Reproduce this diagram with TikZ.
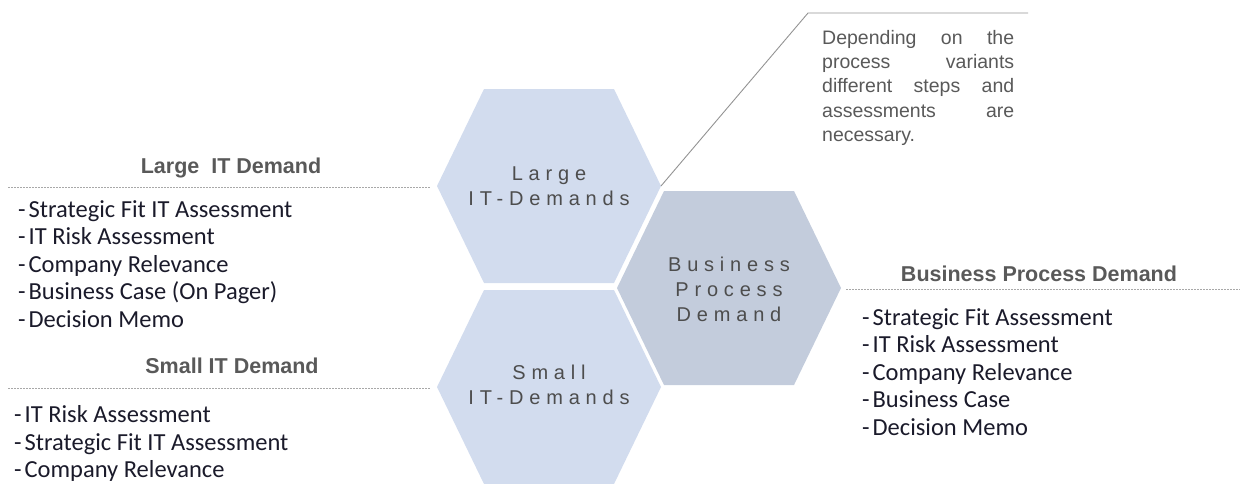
\documentclass[tikz,border=0pt]{standalone}
\usepackage{fontspec}
\setmainfont{Liberation Sans}
\newfontfamily\calfont{Carlito}
\newfontfamily\spacedfont[LetterSpace=29]{Liberation Sans}
\definecolor{hexlight}{HTML}{D2DCEE}
\definecolor{hexdark}{HTML}{C3CCDC}
\definecolor{labelgray}{HTML}{4D4D4D}
\definecolor{headgray}{HTML}{595959}
\definecolor{itemcol}{HTML}{1A1A2A}
\definecolor{sepgray}{HTML}{A8A8A8}
\newcommand{\dsh}{-\hspace{0.12em}}
\begin{document}
\begin{tikzpicture}[x=1pt,y=-1pt,
  hexlabel/.style={inner sep=0pt, anchor=north, align=center, text=labelgray,
    font=\spacedfont\fontsize{20}{25}\selectfont},
  heading/.style={inner sep=0pt, anchor=base, text=headgray,
    font=\bfseries\fontsize{21.5}{25}\selectfont},
  listitem/.style={inner sep=0pt, anchor=base west, text=itemcol,
    font=\calfont\fontsize{24.5}{27.5}\selectfont},
  sepline/.style={draw=sepgray, line width=0.8pt, dash pattern=on 2pt off 1pt},
  callout/.style={draw=gray!85, line width=0.9pt},
  note/.style={inner sep=0pt, anchor=north west, align=left, text=headgray,
    font=\fontsize{19.5}{24.3}\selectfont}
]
\useasboundingbox (0,0) rectangle (1244,483);

% hexagons
\fill[hexlight] (437,186) -- (484,89) -- (614,89) -- (661,186) -- (614,283) -- (484,283) -- cycle;
\fill[hexlight] (437,387) -- (484,290) -- (614,290) -- (661,387) -- (614,484) -- (484,484) -- cycle;
\fill[hexdark] (617,288) -- (664,191) -- (794,191) -- (841,288) -- (794,385) -- (664,385) -- cycle;

\node[hexlabel] (large) at (549,167) {Large\\IT-Demands};
\node[hexlabel] (small) at (549,365) {Small\\IT-Demands};
\node[hexlabel] (bpd) at (729,257) {Business\\Process\\Demand};

% callout
\coordinate (cstart) at (661,186);
\coordinate (cbend) at (808,13);
\coordinate (cend) at (1028,13);
\draw[callout] (cstart) -- (cbend) -- (cend);
\node[note] (notetext) at (822,30) {%
  \makebox[192pt][s]{Depending on the}\\
  \makebox[192pt][s]{process variants}\\
  \makebox[192pt][s]{different steps and}\\
  \makebox[192pt][s]{assessments are}\\
  necessary.};

% Large IT Demand
\node[heading] (hlarge) at (231,173) {Large\ \ IT Demand};
\coordinate (sl1) at (8,187);
\coordinate (sl2) at (430,187);
\draw[sepline] (sl1) -- (sl2);
\node[listitem] (l1) at (18,217) {\dsh Strategic Fit IT Assessment};
\node[listitem] (l2) at (18,244.5) {\dsh IT Risk Assessment};
\node[listitem] (l3) at (18,272) {\dsh Company Relevance};
\node[listitem] (l4) at (18,299.5) {\dsh Business Case (On Pager)};
\node[listitem] (l5) at (18,327) {\dsh Decision Memo};

% Small IT Demand
\node[heading] (hsmall) at (232,373) {Small IT Demand};
\coordinate (ss1) at (8,388);
\coordinate (ss2) at (430,388);
\draw[sepline] (ss1) -- (ss2);
\node[listitem] (s1) at (14,422) {\dsh IT Risk Assessment};
\node[listitem] (s2) at (14,450) {\dsh Strategic Fit IT Assessment};
\node[listitem] (s3) at (14,477.5) {\dsh Company Relevance};

% Business Process Demand
\node[heading] (hbpd) at (1039,281) {Business Process Demand};
\coordinate (sb1) at (846,289);
\coordinate (sb2) at (1240,289);
\draw[sepline] (sb1) -- (sb2);
\node[listitem] (b1) at (862,325) {\dsh Strategic Fit Assessment};
\node[listitem] (b2) at (862,352.5) {\dsh IT Risk Assessment};
\node[listitem] (b3) at (862,380) {\dsh Company Relevance};
\node[listitem] (b4) at (862,407.5) {\dsh Business Case};
\node[listitem] (b5) at (862,435) {\dsh Decision Memo};
\end{tikzpicture}
\end{document}
